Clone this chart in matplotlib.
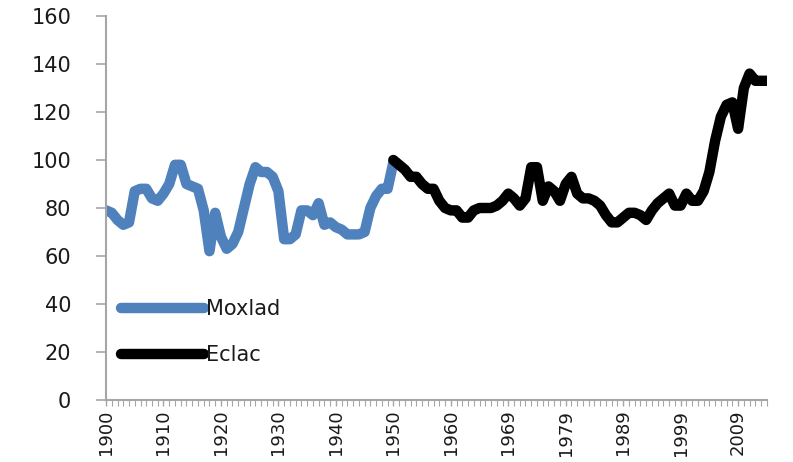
import numpy as np
import matplotlib.pyplot as plt

# category labels of the x axis (one year appears twice in the source sheet)
years = list(range(1900, 1966)) + list(range(1965, 2015))

# Moxlad series, 1900-1950 (first 51 categories)
moxlad = [79, 78, 75, 73, 74, 87, 88, 88, 84, 83,
          86, 90, 98, 98, 90, 89, 88, 79, 62, 78,
          68, 63, 65, 70, 80, 90, 97, 95, 95, 93,
          87, 67, 67, 69, 79, 79, 77, 82, 73, 74,
          72, 71, 69, 69, 69, 70, 80, 85, 88, 88,
          99]

# Eclac series, from category 50 to the end
eclac = [100, 98, 96, 93, 93, 90, 88, 88, 83, 80,
         79, 79, 76, 76, 79, 80, 80, 80, 81, 83,
         86, 84, 81, 84, 97, 97, 83, 89, 87, 83,
         90, 93, 86, 84, 84, 83, 81, 77, 74, 74,
         76, 78, 78, 77, 75, 79, 82, 84, 86, 81,
         81, 86, 83, 83, 87, 95, 108, 118, 123, 124,
         113, 130, 136, 133, 133, 133]

x_mox = np.arange(len(moxlad))
x_ecl = np.arange(len(years) - len(eclac), len(years))

fig = plt.figure(figsize=(7.93, 4.62), dpi=100)
ax = fig.add_axes([0.1337, 0.1342, 0.8333, 0.8312])

line_kw = dict(linewidth=7.5, solid_capstyle='round', solid_joinstyle='round')
ax.plot(x_mox, moxlad, color='#4f81bd', label='Moxlad', **line_kw)
ax.plot(x_ecl, eclac, color='black', label='Eclac', **line_kw)

ax.set_ylim(0, 160)
ax.set_yticks(np.arange(0, 161, 20))
ax.set_xlim(0, len(years) - 1)
ax.set_xticks(np.arange(0, len(years), 10))
ax.set_xticklabels([str(years[i]) for i in range(0, len(years), 10)], rotation=90)
ax.set_xticks(np.arange(len(years)), minor=True)

for s in ['top', 'right']:
    ax.spines[s].set_visible(False)
for s in ['left', 'bottom']:
    ax.spines[s].set_color('#a6a6a6')
    ax.spines[s].set_linewidth(1.5)

ax.tick_params(axis='y', which='major', length=7, width=1.2, color='#a6a6a6',
               labelsize=15, pad=18, labelcolor='#1a1a1a')
ax.tick_params(axis='x', which='major', length=4, width=1, color='#a6a6a6',
               labelsize=13, pad=3, labelcolor='#1a1a1a')
ax.tick_params(axis='x', which='minor', length=4, width=0.8, color='#a6a6a6')

leg = ax.legend(loc='lower left', bbox_to_anchor=(0.0, 0.052), frameon=False,
                fontsize=15, handlelength=4.0, handletextpad=0.1,
                labelspacing=1.25, borderaxespad=0.3)
for t in leg.get_texts():
    t.set_color('#1a1a1a')

fig.savefig('out.png', dpi=100)
